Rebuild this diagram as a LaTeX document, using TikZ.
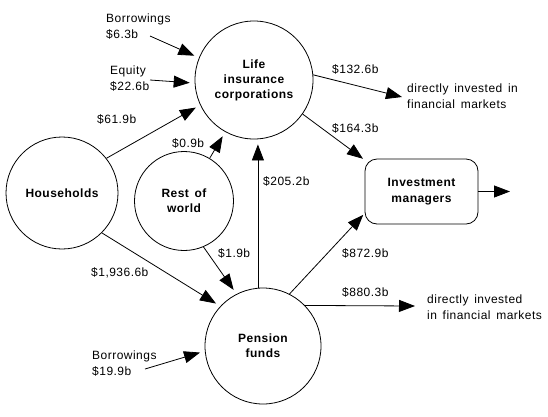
\documentclass[tikz,border=0pt]{standalone}
\usepackage{fontspec}
\setmainfont{Liberation Sans}[LetterSpace=4,WordSpace=1.5]
\usetikzlibrary{arrows.meta}
\begin{document}
\begin{tikzpicture}[x=1pt,y=-1pt,
  every node/.style={font=\fontsize{12}{16}\selectfont},
  circ/.style={draw, circle, line width=0.8pt, inner sep=0pt, align=center,
    font=\fontsize{12}{15}\selectfont\bfseries},
  box/.style={draw, rounded corners=12pt, line width=0.8pt, inner sep=0pt, align=center,
    minimum width=113pt, minimum height=65pt, font=\fontsize{12}{16}\selectfont\bfseries},
  lbl/.style={anchor=west, inner sep=0pt, align=left},
  arr/.style={draw, line width=0.8pt, -{Triangle[length=16pt,width=12pt]}},
  into/.style={shorten >=5pt}]
\useasboundingbox[fill=white] (0,0) rectangle (548,416);
% main nodes
\node[circ, minimum size=118pt] (life) at (254,80) {Life\\insurance\\corporations};
\node[circ, minimum size=112pt] (hh) at (62,193) {Households};
\node[circ, minimum size=99pt] (rw) at (184,201) {Rest of\\world};
\node[circ, minimum size=116pt] (pf) at (263,346) {Pension\\funds};
\node[box] (im) at (421.5,191.5) {Investment\\managers};
% free ends
\coordinate (b1) at (150,36);
\coordinate (eq) at (150,80);
\coordinate (d1) at (402,97);
\coordinate (d2) at (415,306);
\coordinate (b2) at (145,369);
\coordinate (out) at (510,191.5);
% connectors
\draw[arr,into] (b1) -- (life.158);
\draw[arr,into] (eq) -- (life.183);
\draw[arr,into] (hh.38) -- (life.205);
\draw[arr,into] (rw.59) -- (life.241);
\draw[arr,into] (pf.95) -- (pf.95 |- life.south);
\draw[arr,into] (rw.293) -- (pf.117);
\draw[arr,into] (hh.315) -- (pf.137);
\draw[arr,into] (b2) -- (pf.185);
\draw[arr] (life.5) -- (d1);
\draw[arr,shorten >=2pt] (life.325) -- (im.151);
\draw[arr,shorten >=2pt] (pf.63) -- (im.201);
\draw[arr] (pf.44) -- (d2);
\draw[arr] (im.east) -- (out);
% labels
\node[lbl] (lb1) at (106,26.5) {Borrowings\\\$6.3b};
\node[lbl] (leq) at (110,78.5) {Equity\\\$22.6b};
\node[lbl] (l619) at (97,119) {\$61.9b};
\node[lbl] (l09) at (172,143) {\$0.9b};
\node[lbl] (l2052) at (263,181) {\$205.2b};
\node[lbl] (l19) at (218,253) {\$1.9b};
\node[lbl] (l1936) at (91,273) {\$1,936.6b};
\node[lbl] (l8729) at (342,253) {\$872.9b};
\node[lbl] (l8803) at (342,292) {\$880.3b};
\node[lbl] (l1326) at (332,69) {\$132.6b};
\node[lbl] (l1643) at (332,128) {\$164.3b};
\node[lbl] (ld1) at (407,96) {directly invested in\\financial markets};
\node[lbl] (ld2) at (427,307.5) {directly invested\\in financial markets};
\node[lbl] (lb2) at (92,363.5) {Borrowings\\\$19.9b};
\end{tikzpicture}
\end{document}
